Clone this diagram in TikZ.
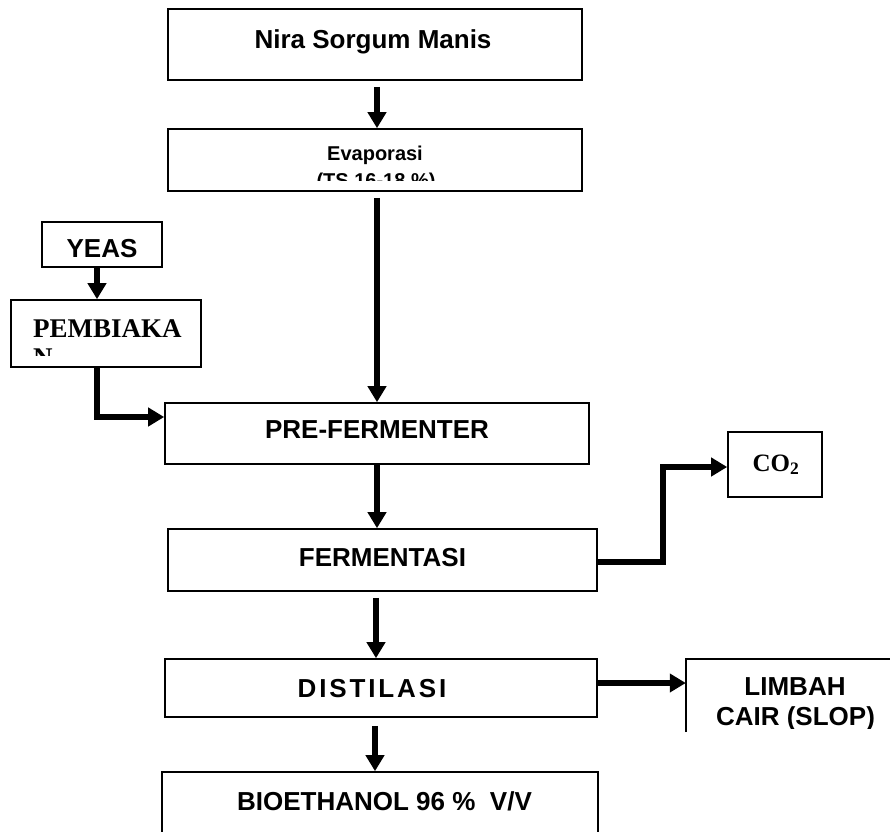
\documentclass[tikz,border=0pt]{standalone}
\usepackage{fontspec}
\newfontfamily\sansb{Liberation Sans}
\newfontfamily\sansbwide{Liberation Sans}[LetterSpace=11]
\newfontfamily\serifb{Liberation Serif}
\usetikzlibrary{arrows.meta,calc}
\begin{document}
\begin{tikzpicture}[x=1bp,y=-1bp,
  box/.style={draw, line width=1.6bp, inner sep=0pt},
  txt/.style={font=\sansb\bfseries\fontsize{26bp}{30bp}\selectfont, inner sep=0pt, anchor=base},
  smalltxt/.style={font=\sansb\bfseries\fontsize{20bp}{24bp}\selectfont, inner sep=0pt, anchor=base},
  sertxt/.style={font=\serifb\bfseries\fontsize{27bp}{30bp}\selectfont, inner sep=0pt, anchor=base west},
  arr/.style={line width=5.8bp, -{Triangle[length=16bp,width=18bp]}}]
\useasboundingbox (0,0) rectangle (890,832);
\fill[white] (0,0) rectangle (890,832);

% boxes
\node[box, minimum width=414bp, minimum height=71bp] (nira) at (375,44.5) {};
\node[box, minimum width=414bp, minimum height=62bp] (evap) at (375,160) {};
\node[box, minimum width=120bp, minimum height=45bp] (yeas) at (102,244.5) {};
\node[box, minimum width=190bp, minimum height=67bp] (pemb) at (106,333.5) {};
\node[box, minimum width=424bp, minimum height=61bp] (pre) at (377,433.5) {};
\node[box, minimum width=429bp, minimum height=62bp] (ferm) at (382.5,560) {};
\node[box, minimum width=432bp, minimum height=58bp] (dist) at (381,688) {};
\node[box, minimum width=436bp, minimum height=88bp] (bio) at (380,816) {};
\node[box, minimum width=94bp, minimum height=65bp] (co2) at (775,464.5) {};
\node[inner sep=0pt, minimum width=220bp, minimum height=73bp] (limbah) at (796,695.5) {};
\draw[line width=1.6bp] (limbah.south west) -- (limbah.north west) -- (limbah.north east);

% texts
\node[txt] (tnira) at (373,48) {Nira Sorgum Manis};
\begin{scope}
  \clip (168,129) rectangle (582,180.5);
  \node[smalltxt] (tevap1) at (375,160) {Evaporasi};
  \node[smalltxt] (tevap2) at (376,187) {(TS 16-18 \%)};
\end{scope}
\node[txt] (tyeas) at (102,257) {YEAS};
\begin{scope}
  \clip (11,300) rectangle (201,355);
  \node[sertxt] (tpemb1) at (33,337) {PEMBIAKA};
  \node[sertxt] (tpemb2) at (33,366) {N};
\end{scope}
\node[txt] (tpre) at (377,438) {PRE-FERMENTER};
\node[txt] (tferm) at (382.5,566) {FERMENTASI};
\node[txt, font=\sansbwide\bfseries\fontsize{26bp}{30bp}\selectfont] (tdist) at (372,697) {DISTILASI};
\node[txt] (tbio) at (384.5,810) {BIOETHANOL 96 \%\ \ V/V};
\node[font=\serifb\bfseries\fontsize{25bp}{28bp}\selectfont, inner sep=0pt, anchor=base] (tco2) at (776,471) {CO\textsubscript{2}};
\begin{scope}
  \clip (686,659) rectangle (890,728);
  \node[txt] (tlim1) at (795,695) {LIMBAH};
  \node[txt] (tlim2) at (795.5,725) {CAIR (SLOP)};
\end{scope}

% connectors
\draw[arr] ($(nira.south)+(2,6)$) -- ($(evap.north)+(2,0)$);
\draw[arr] ($(evap.south)+(2,6)$) -- (pre.north);
\draw[arr] ($(yeas.south)+(-5,0)$) -- ($(pemb.north)+(-9,0)$);
\draw[arr] ($(pemb.south)+(-9,0)$) |- ($(pre.west)+(0,-16.5)$);
\draw[arr] (pre.south) -- ($(ferm.north)+(-5.5,0)$);
\draw[arr] ($(ferm.south)+(-6.5,6)$) -- ($(dist.north)+(-5,0)$);
\draw[arr] ($(dist.south)+(-6,8)$) -- ($(bio.north)+(-5,0)$);
\coordinate (bend) at (663,562);
\draw[arr] ($(ferm.east)+(0,2)$) -- (bend) |- ($(co2.west)+(0,2.5)$);
\draw[arr] ($(dist.east)+(0,-5)$) -- ($(limbah.west)+(0,-12.5)$);
\end{tikzpicture}
\end{document}
